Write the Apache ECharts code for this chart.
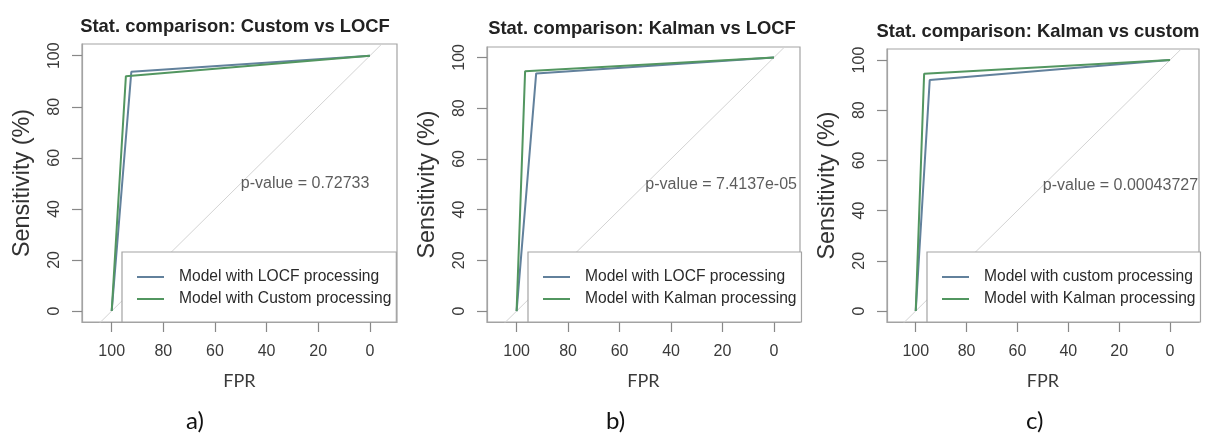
<!DOCTYPE html>
<html>
<head>
<meta charset="utf-8">
<script src="https://cdn.jsdelivr.net/npm/echarts@6/dist/echarts.min.js"></script>
<style>
html,body{margin:0;padding:0;background:#fff;}
#chart{width:1208px;height:435px;}
</style>
</head>
<body>
<div id="chart"></div>
<script>
// ---- data ----
const axisTicks = [0, 20, 40, 60, 80, 100];
const panelTitles = [
  'Stat. comparison: Custom vs LOCF',
  'Stat. comparison: Kalman vs LOCF',
  'Stat. comparison: Kalman vs custom'
];
const panelLabels = ['a)', 'b)', 'c)'];
const pValues = ['0.72733', '7.4137e-05', '0.00043727'];
const pValuePos = [50, 50];
// ROC curves: [specificity %, sensitivity %]
const locfCurve = [[100, 0], [92.4, 93.7], [0, 100]];
const customCurve = [[100, 0], [94.5, 92.0], [0, 100]];
const kalmanCurve = [[100, 0], [96.7, 94.5], [0, 100]];
const diagonal = [[130, -30], [-30, 130]];
const panelSeries = [
  [['Model with LOCF processing', locfCurve], ['Model with Custom processing', customCurve]],
  [['Model with LOCF processing', locfCurve], ['Model with Kalman processing', kalmanCurve]],
  [['Model with custom processing', customCurve], ['Model with Kalman processing', kalmanCurve]]
];

// ---- layout / style ----
const layout = [
  {left: 82, top: 44, width: 315, height: 278, xmin: -10.5, xmax: 111.5, ymin: -4.3, ymax: 104.6, titleX: 235, titleY: 27, labX: 186, legL: 122},
  {left: 487, top: 47, width: 313, height: 275, xmin: -10.1, xmax: 111.5, ymin: -4.3, ymax: 104.1, titleX: 642, titleY: 29, labX: 606, legL: 528},
  {left: 887, top: 49, width: 312, height: 273, xmin: -11.4, xmax: 111.3, ymin: -4.4, ymax: 104.4, titleX: 1038, titleY: 32, labX: 1026, legL: 927}
];
const BLUE = '#62819c';
const GREEN = '#529660';
const BOX = '#a3a3a3';
const TXT = '#3a3a3a';
const FONT = '"Liberation Sans", Arial, sans-serif';

const option = {
  animation: false,
  backgroundColor: '#fff',
  title: [], grid: [], xAxis: [], yAxis: [], series: [], legend: [], graphic: []
};

layout.forEach((L, i) => {
  option.title.push({
    text: panelTitles[i], left: L.titleX, top: L.titleY - 11, textAlign: 'center', padding: 0,
    textStyle: {fontFamily: FONT, fontWeight: 'bold', fontSize: 18.4, color: '#222', lineHeight: 22}
  });
  option.grid.push({left: L.left, top: L.top, width: L.width, height: L.height, show: true,
    borderColor: BOX, borderWidth: 1.2, backgroundColor: 'transparent'});
  option.xAxis.push({
    type: 'value', gridIndex: i, inverse: true, min: L.xmin, max: L.xmax,
    name: 'FPR', nameLocation: 'middle', nameGap: 50, nameMoveOverlap: false,
    nameTextStyle: {fontFamily: 'Lato, "Open Sans", sans-serif', fontSize: 18, color: TXT},
    axisLine: {show: true, onZero: false, lineStyle: {color: BOX, width: 1.2}}, splitLine: {show: false},
    axisTick: {show: true, length: 10, customValues: axisTicks, lineStyle: {color: '#888', width: 1.2}},
    axisLabel: {customValues: axisTicks, margin: 22, fontFamily: FONT, fontSize: 16, color: TXT}
  });
  option.yAxis.push({
    type: 'value', gridIndex: i, min: L.ymin, max: L.ymax,
    name: 'Sensitivity (%)', nameLocation: 'middle', nameRotate: 90, nameGap: 48, nameMoveOverlap: false,
    nameTextStyle: {fontFamily: FONT, fontSize: 23.4, color: '#333'},
    axisLine: {show: true, onZero: false, lineStyle: {color: BOX, width: 1.2}}, splitLine: {show: false},
    axisTick: {show: true, length: 10, customValues: axisTicks, lineStyle: {color: '#888', width: 1.2}},
    axisLabel: {customValues: axisTicks, rotate: 90, margin: 19, fontFamily: FONT, fontSize: 16, color: TXT}
  });
  option.series.push({
    type: 'line', xAxisIndex: i, yAxisIndex: i, data: diagonal, symbol: 'none', silent: true,
    lineStyle: {color: '#d3d3d3', width: 1}, clip: true, z: 1
  });
  panelSeries[i].forEach(([name, curve], k) => {
    option.series.push({
      type: 'line', name: name, xAxisIndex: i, yAxisIndex: i, data: curve, symbol: 'none',
      color: k === 0 ? BLUE : GREEN, lineStyle: {width: 2}, clip: true, z: 2 + k
    });
  });
  option.series.push({
    type: 'scatter', xAxisIndex: i, yAxisIndex: i, data: [pValuePos], symbolSize: 0, silent: true,
    label: {show: true, position: 'right', distance: 0, formatter: 'p-value = ' + pValues[i],
      fontFamily: FONT, fontSize: 16, color: '#333'}, z: 5
  });
  option.legend.push({
    data: panelSeries[i].map(s => s[0]),
    orient: 'vertical', left: L.legL, top: 252,
    padding: [14, 5, 12, 15], itemGap: 0, itemWidth: 27, itemHeight: 2, icon: 'rect',
    backgroundColor: '#fff', borderColor: BOX, borderWidth: 1.2, borderRadius: 0,
    selectedMode: false,
    textStyle: {fontFamily: FONT, fontSize: 15.6, color: '#2a2a2a', lineHeight: 22, padding: [0, 0, 0, 10]}
  });
  option.graphic.push({
    type: 'text', left: L.labX, top: 409, style: {text: panelLabels[i], fontFamily: 'Lato, "Open Sans", sans-serif',
      fontSize: 24, fill: '#111', textAlign: 'center'}
  });
});

const chart = echarts.init(document.getElementById('chart'), null, {renderer: 'canvas'});
chart.setOption(option);
</script>
</body>
</html>
